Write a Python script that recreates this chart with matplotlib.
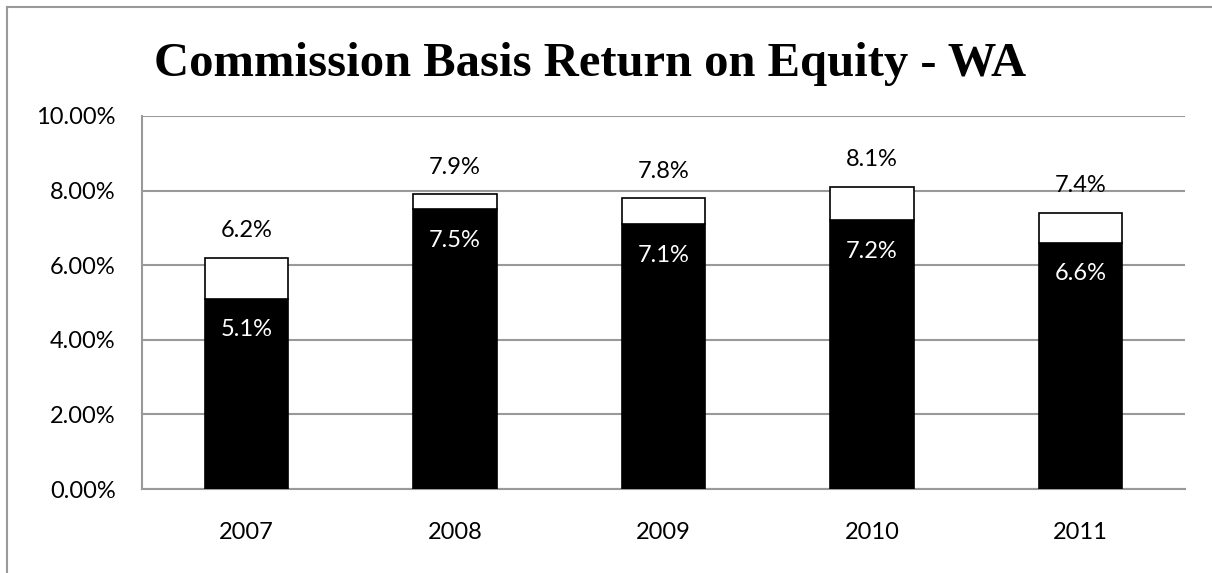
import matplotlib
matplotlib.use("Agg")
import matplotlib.pyplot as plt
from matplotlib.lines import Line2D

years = ["2007", "2008", "2009", "2010", "2011"]
base_roe = [5.1, 7.5, 7.1, 7.2, 6.6]
total_roe = [6.2, 7.9, 7.8, 8.1, 7.4]
yticks = [0, 2, 4, 6, 8, 10]

lab_font = ["Lato", "DejaVu Sans"]
fs = 17

fig = plt.figure(figsize=(12.12, 5.73), dpi=100)
ax = fig.add_axes([142/1212, 1-489/573, (1185-142)/1212, (489-116)/573])

x = range(len(years))
upper = [t - b for t, b in zip(total_roe, base_roe)]
ax.bar(x, base_roe, width=0.4, color="black", edgecolor="black", linewidth=1.2, zorder=3)
ax.bar(x, upper, bottom=base_roe, width=0.4, color="white", edgecolor="black", linewidth=1.2, zorder=3)

for i, (b, t) in enumerate(zip(base_roe, total_roe)):
    ax.annotate(f"{b:.1f}%", (i, b), xytext=(0, -31*0.72), textcoords="offset points",
                ha="center", va="center", color="white", fontsize=fs, family=lab_font, zorder=4)
    ax.annotate(f"{t:.1f}%", (i, t), xytext=(0, 27*0.72), textcoords="offset points",
                ha="center", va="center", color="black", fontsize=fs, family=lab_font, zorder=4)

ax.set_ylim(0, 10)
ax.set_xlim(-0.5, len(years) - 0.5)
ax.set_yticks(yticks)
ax.set_yticklabels([f"{v:.2f}%" for v in yticks], family=lab_font, fontsize=fs)
ax.set_xticks(list(x))
ax.set_xticklabels(years, family=lab_font, fontsize=fs)
ax.tick_params(axis="both", length=0)
ax.tick_params(axis="y", pad=19)
ax.tick_params(axis="x", pad=24)
ax.yaxis.grid(True, color="#999999", linewidth=1.5, zorder=0)
ax.set_axisbelow(True)
for s in ["top", "right"]:
    ax.spines[s].set_visible(False)
for s in ["left", "bottom"]:
    ax.spines[s].set_color("#999999")
    ax.spines[s].set_linewidth(1.5)

fig.text(590/1212, 1-64/573, "Commission Basis Return on Equity - WA", ha="center", va="center",
         fontsize=35, fontweight="bold", family=["Liberation Serif", "DejaVu Serif"])

# outer chart border (cropped)
fig.add_artist(Line2D([7/1212, 1], [1-7/573, 1-7/573], color="#999999", linewidth=1.5, transform=fig.transFigure))
fig.add_artist(Line2D([7/1212, 7/1212], [0, 1-7/573], color="#999999", linewidth=1.5, transform=fig.transFigure))

fig.savefig("out.png", dpi=100)
